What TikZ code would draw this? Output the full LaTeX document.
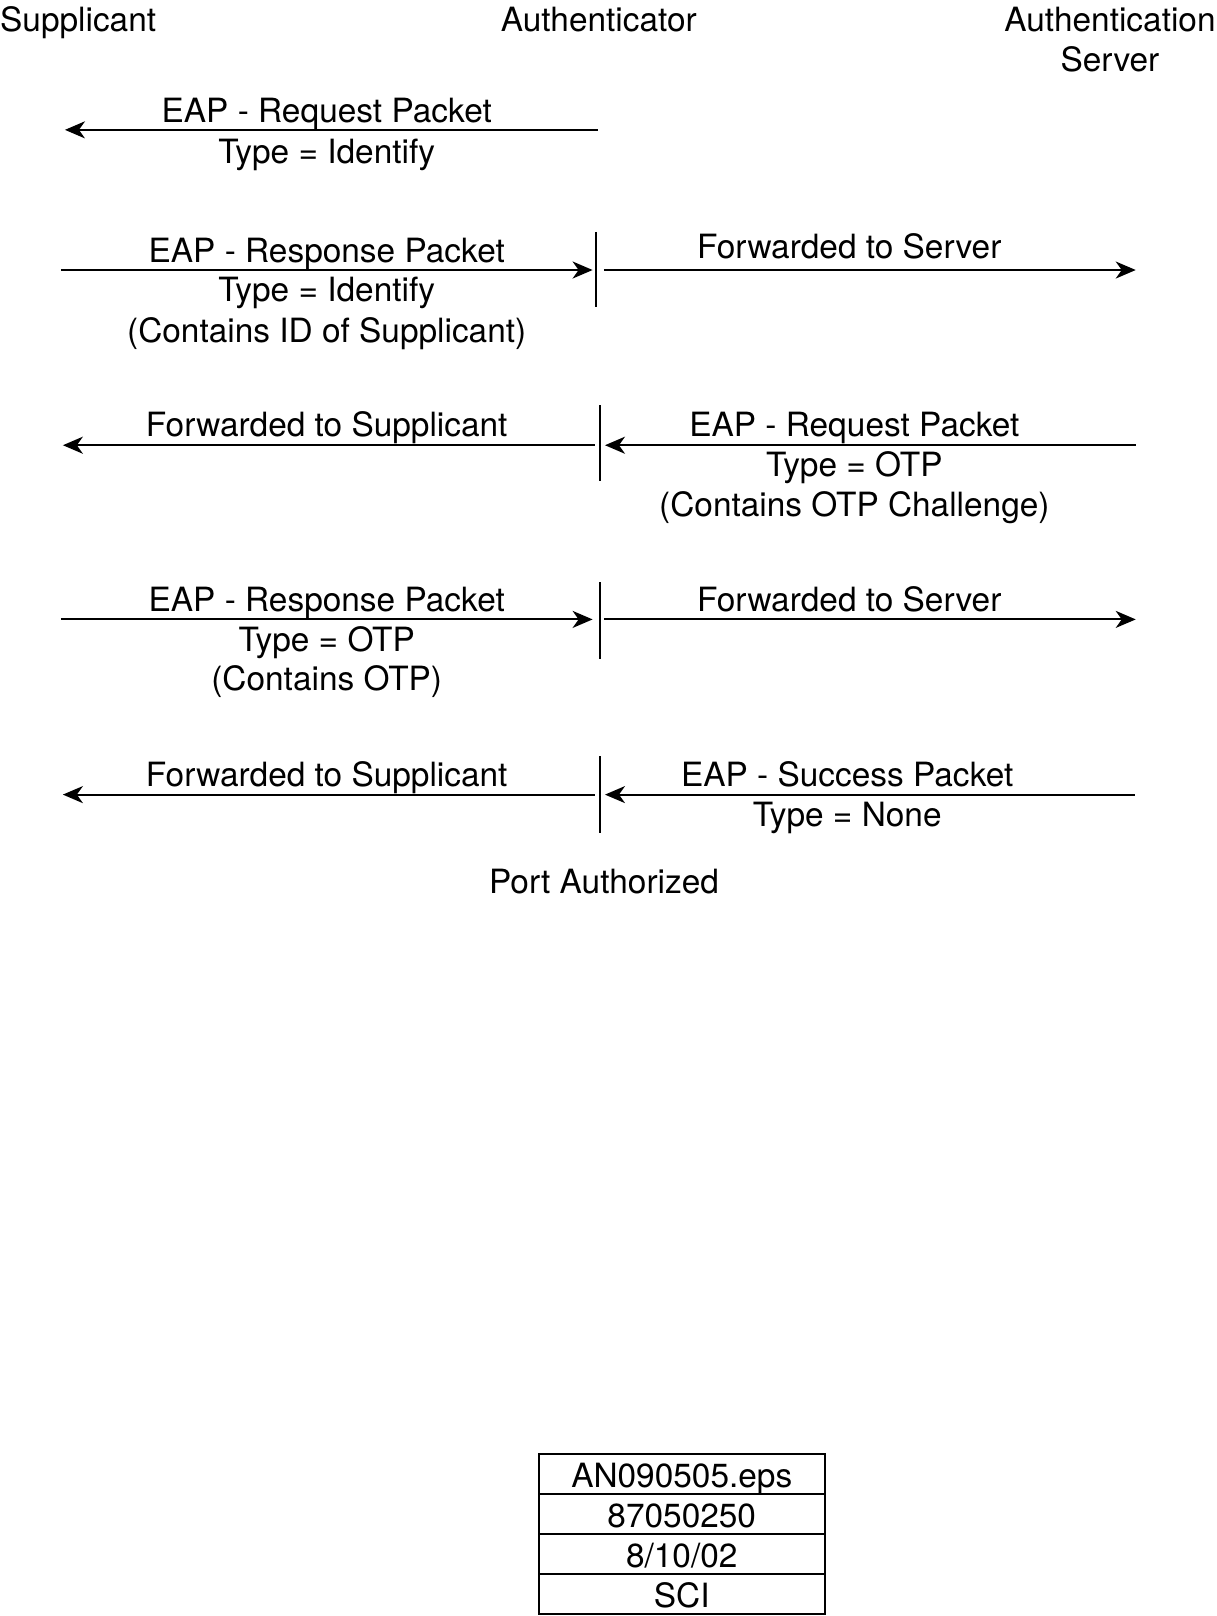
\documentclass[tikz,border=0pt]{standalone}
\usepackage{fontspec}
\setmainfont{TeX Gyre Heros}
\usetikzlibrary{arrows.meta,positioning}

\tikzset{
	txt/.style={font=\fontsize{33.4}{39}\selectfont, inner sep=0pt, anchor=base},
	msg/.style={line width=2pt, -{Stealth[length=20pt,width=17pt,inset=6pt]}},
	tick/.style={line width=2pt},
	row/.style={draw, line width=2pt, outer sep=0pt, inner sep=0pt,
		minimum width=285.5pt, minimum height=40pt,
		text height=27pt, text depth=0pt,
		font=\fontsize{33.4}{39}\selectfont}
}

\begin{document}
\begin{tikzpicture}[x=1.0305pt, y=-1.0305pt]
	\useasboundingbox (0,0) rectangle (1180,1568);
	% headers
		\node[txt, anchor=base west] (sup) at (0,31) {Supplicant};
		\node[txt] (auth) at (581,31) {Authenticator};
		\node[txt] (srvA) at (1077,31) {Authentication};
		\node[txt] (srvB) at (1077,69) {Server};
	% request identity
		\coordinate (a1) at (580,126);
		\coordinate (s1) at (63,126);
		\draw[msg] (a1) -- (s1);
		\node[txt] (m1a) at (317,119) {EAP - Request Packet};
		\node[txt] (m1b) at (317,159) {Type = Identify};
	% response identity
		\coordinate (s2) at (59,262);
		\coordinate (a2l) at (575,262);
		\coordinate (a2r) at (586,262);
		\coordinate (v2) at (1102,262);
		\coordinate (t2a) at (578,225);
		\coordinate (t2b) at (578,298);
		\draw[msg] (s2) -- (a2l);
		\draw[tick] (t2a) -- (t2b);
		\draw[msg] (a2r) -- (v2);
		\node[txt] (m2a) at (317,255) {EAP - Response Packet};
		\node[txt] (m2b) at (317,293) {Type = Identify};
		\node[txt] (m2c) at (317,332) {(Contains ID of Supplicant)};
		\node[txt] (f2) at (824,251) {Forwarded to Server};
	% request otp
		\coordinate (a3l) at (577,432);
		\coordinate (s3) at (61,432);
		\coordinate (v3) at (1102,432);
		\coordinate (a3r) at (587,432);
		\coordinate (t3a) at (582,393);
		\coordinate (t3b) at (582,467);
		\draw[msg] (a3l) -- (s3);
		\draw[tick] (t3a) -- (t3b);
		\draw[msg] (v3) -- (a3r);
		\node[txt] (f3) at (317,424) {Forwarded to Supplicant};
		\node[txt] (m3a) at (829,424) {EAP - Request Packet};
		\node[txt] (m3b) at (829,462) {Type = OTP};
		\node[txt] (m3c) at (829,501) {(Contains OTP Challenge)};
	% response otp
		\coordinate (s4) at (59,601);
		\coordinate (a4l) at (575,601);
		\coordinate (a4r) at (586,601);
		\coordinate (v4) at (1102,601);
		\coordinate (t4a) at (582,565);
		\coordinate (t4b) at (582,639);
		\draw[msg] (s4) -- (a4l);
		\draw[tick] (t4a) -- (t4b);
		\draw[msg] (a4r) -- (v4);
		\node[txt] (m4a) at (317,593) {EAP - Response Packet};
		\node[txt] (m4b) at (317,632) {Type = OTP};
		\node[txt] (m4c) at (317,670) {(Contains OTP)};
		\node[txt] (f4) at (824,593) {Forwarded to Server};
	% success
		\coordinate (a5l) at (577,771);
		\coordinate (s5) at (61,771);
		\coordinate (v5) at (1101,771);
		\coordinate (a5r) at (587,771);
		\coordinate (t5a) at (582,734);
		\coordinate (t5b) at (582,808);
		\draw[msg] (a5l) -- (s5);
		\draw[tick] (t5a) -- (t5b);
		\draw[msg] (v5) -- (a5r);
		\node[txt] (f5) at (317,763) {Forwarded to Supplicant};
		\node[txt] (m5a) at (822,763) {EAP - Success Packet};
		\node[txt] (m5b) at (822,802) {Type = None};
		\node[txt] (port) at (586,867) {Port Authorized};
	% file stamp
		\node[row] (r1) at (661.5,1430.4) {AN090505.eps};
		\node[row, below=0pt of r1] (r2) {87050250};
		\node[row, below=0pt of r2] (r3) {8/10/02};
		\node[row, below=0pt of r3] (r4) {SCI};
	\end{tikzpicture}
\end{document}
